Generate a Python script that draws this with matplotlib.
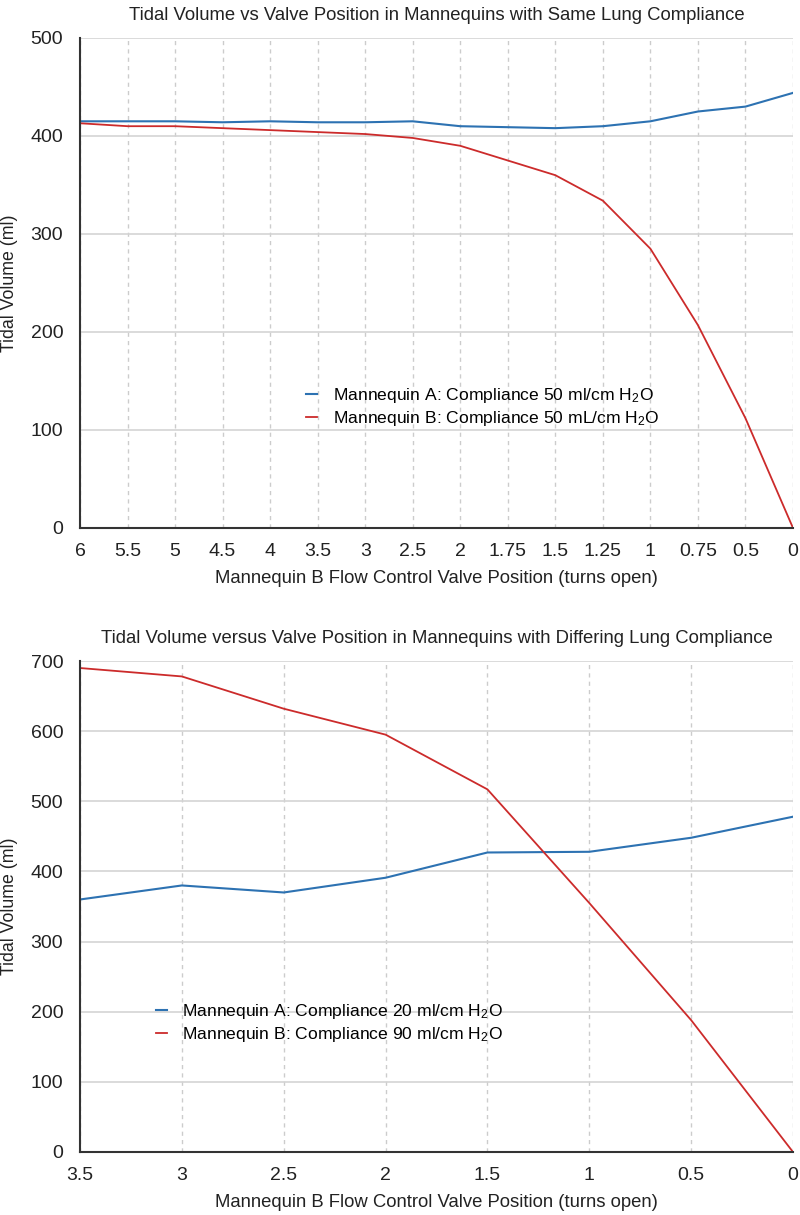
import matplotlib
matplotlib.use("Agg")
import matplotlib.pyplot as plt
import numpy as np

plt.rcParams['font.family'] = ['Liberation Sans', 'DejaVu Sans']
plt.rcParams['mathtext.fontset'] = 'custom'
plt.rcParams['mathtext.rm'] = 'Liberation Sans'
plt.rcParams['mathtext.it'] = 'Liberation Sans:italic'

# Top chart data
top_labels = ["6", "5.5", "5", "4.5", "4", "3.5", "3", "2.5", "2", "1.75",
              "1.5", "1.25", "1", "0.75", "0.5", "0"]
top_a = [415, 415, 415, 414, 415, 414, 414, 415, 410, 409, 408, 410, 415, 425, 430, 444]
top_b = [413, 410, 410, 408, 406, 404, 402, 398, 390, 375, 360, 334, 285, 207, 112, 0]

# Bottom chart data
bot_labels = ["3.5", "3", "2.5", "2", "1.5", "1", "0.5", "0"]
bot_a = [360, 380, 370, 391, 427, 428, 448, 478]
bot_b = [690, 678, 632, 595, 517, 355, 188, 0]

top_title = "Tidal Volume vs Valve Position in Mannequins with Same Lung Compliance"
bot_title = "Tidal Volume versus Valve Position in Mannequins with Differing Lung Compliance"
xlabel = "Mannequin B Flow Control Valve Position (turns open)"
ylabel = "Tidal Volume (ml)"
top_leg = ["Mannequin A: Compliance 50 ml/cm H$_2$O", "Mannequin B: Compliance 50 mL/cm H$_2$O"]
bot_leg = ["Mannequin A: Compliance 20 ml/cm H$_2$O", "Mannequin B: Compliance 90 ml/cm H$_2$O"]

BLUE = "#2d72b2"
RED = "#cc2b2b"
W, H = 800, 1215
fig = plt.figure(figsize=(W / 100, H / 100), dpi=100)


def make_axes(l, r, t, b):
    return fig.add_axes([l / W, 1 - b / H, (r - l) / W, (b - t) / H])


def style(ax, labels, ymax, title, t, b):
    x = np.arange(len(labels))
    ax.set_xlim(0, len(labels) - 1)
    ax.set_ylim(0, ymax)
    ax.set_xticks(x)
    ax.set_xticklabels(labels)
    ax.set_yticks(np.arange(0, ymax + 1, 100))
    for s in ['top', 'right']:
        ax.spines[s].set_visible(False)
    for s in ['left', 'bottom']:
        ax.spines[s].set_color('#333333')
        ax.spines[s].set_linewidth(1.5)
        ax.spines[s].set_zorder(5)
    ax.tick_params(length=0, labelsize=14, colors='#222222', pad=11)
    ax.tick_params(axis='y', pad=12)
    ax.yaxis.grid(True, color='#d4d4d4', lw=1.2, ls='-')
    ax.xaxis.grid(True, color='#cccccc', lw=1.0, ls=(0, (3, 3)))
    ax.set_axisbelow(True)
    ax.set_title(title, fontsize=13.3, color='#222222', pad=13)
    ax.set_xlabel(xlabel, fontsize=13.3, color='#222222')
    ax.set_ylabel(ylabel, fontsize=12.8, color='#222222')
    h = b - t
    ax.yaxis.set_label_coords(-62 / 713, 0.5)
    ax.xaxis.set_label_coords(0.5, -42 / h)
    return x


ax1 = make_axes(80, 793, 38, 528)
x1 = style(ax1, top_labels, 500, top_title, 38, 528)
ax1.plot(x1, top_a, color=BLUE, lw=1.5, label=top_leg[0])
ax1.plot(x1, top_b, color=RED, lw=1.3, label=top_leg[1])
ax1.legend(loc='center', bbox_to_anchor=(0.565, 0.247), frameon=False, fontsize=12.6,
           handlelength=0.6, handletextpad=0.9, labelspacing=0.25, borderpad=0)

ax2 = make_axes(80, 793, 661, 1152)
x2 = style(ax2, bot_labels, 700, bot_title, 661, 1152)
ax2.plot(x2, bot_a, color=BLUE, lw=1.5, label=bot_leg[0])
ax2.plot(x2, bot_b, color=RED, lw=1.3, label=bot_leg[1])
ax2.legend(loc='center', bbox_to_anchor=(0.35, 0.263), frameon=False, fontsize=12.6,
           handlelength=0.6, handletextpad=0.9, labelspacing=0.25, borderpad=0)

fig.savefig("out.png", dpi=100, facecolor='white')
